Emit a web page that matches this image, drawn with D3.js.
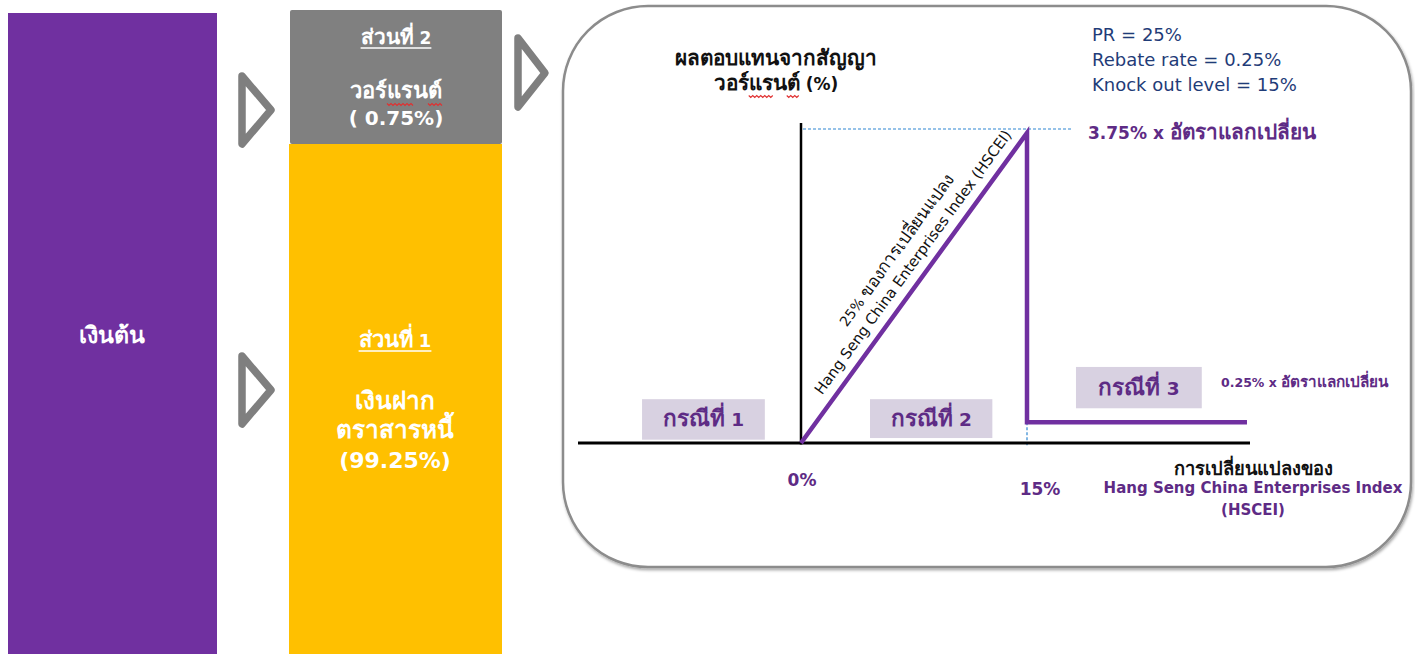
<!DOCTYPE html>
<html><head><meta charset="utf-8">
<script src="https://cdn.jsdelivr.net/npm/d3@7/dist/d3.min.js"></script>
<style>
html,body{margin:0;padding:0;background:#fff;}
svg{display:block;}
text{font-family:Tahoma,"DejaVu Sans","Noto Sans",sans-serif;}
</style></head>
<body>
<svg id="c" width="1415" height="654"></svg>
<script>
// ---- data ----
const payoffX = [0, 15, 15, 29.6];          // % change of HSCEI
const payoffY = [0, 3.75, 0.25, 0.25];      // warrant return (%)
const xTicks = ["0%", "15%"];
const xTickValues = [0, 15];
const caseLabels = ["กรณีที่ 1", "กรณีที่ 2", "กรณีที่ 3"];
const paramLines = ["PR = 25%", "Rebate rate = 0.25%", "Knock out level = 15%"];
const titleLines = ["ผลตอบแทนจากสัญญา", "วอร์แรนต์ (%)"];
const xLabelLines = ["การเปลี่ยนแปลงของ", "Hang Seng China Enterprises Index", "(HSCEI)"];
const diagLines = ["25% ของการเปลี่ยนแปลง", "Hang Seng China Enterprises Index (HSCEI)"];
const capLabel = "3.75% x อัตราแลกเปลี่ยน";
const rebateLabel = "0.25% x อัตราแลกเปลี่ยน";
const principalLabel = "เงินต้น";
const part2Lines = ["ส่วนที่ 2", "วอร์แรนต์", "( 0.75%)"];
const part1Lines = ["ส่วนที่ 1", "เงินฝาก", "ตราสารหนี้", "(99.25%)"];

const svg = d3.select("#c");
const PURPLE = "#7030A0", DARKP = "#5E2B85", GRAY = "#7F7F7F";
const THAI = 1.22;

// text helper: Thai runs get a larger size to match the reference's Thai face
function addText(parent, str, o) {
  const t = parent.append("text").attr("x", o.x).attr("y", o.y)
    .attr("text-anchor", o.anchor || "start").attr("fill", o.fill || "#000")
    .attr("font-weight", o.bold ? "bold" : "normal");
  const runs = str.match(/[\u0E00-\u0E7F]+|[^\u0E00-\u0E7F]+/g);
  runs.forEach(r => {
    const th = /[\u0E00-\u0E7F]/.test(r);
    t.append("tspan").attr("font-size", o.size * (th ? THAI : 1)).text(r);
  });
  if (o.underline) {
    const bb = t.node().getBBox();
    parent.append("line").attr("x1", bb.x).attr("x2", bb.x + bb.width)
      .attr("y1", o.y + 4).attr("y2", o.y + 4).attr("stroke", o.fill || "#000").attr("stroke-width", 1.6);
  }
  return t;
}
// red spell-check squiggle under a char range
function squiggle(t, i0, i1, dy) {
  const node = t.node();
  try {
    const a = node.getExtentOfChar(i0), b = node.getExtentOfChar(i1);
    const x0 = Math.min(a.x, b.x), x1 = Math.max(a.x + a.width, b.x + b.width), yy = +t.attr("y") + dy;
    const p = [];
    for (let xx = x0, k = 0; xx <= x1 + 0.1; xx += 2, k++) p.push([xx, yy + (k % 2 ? 1.5 : -0.5)]);
    svg.append("path").attr("d", d3.line()(p)).attr("fill", "none").attr("stroke", "#E03030").attr("stroke-width", 1.1);
  } catch (e) {}
}

// ---- left blocks ----
svg.append("rect").attr("x", 8).attr("y", 13).attr("width", 209).attr("height", 660).attr("fill", PURPLE);
svg.append("rect").attr("x", 290).attr("y", 10).attr("width", 212).attr("height", 134).attr("fill", "#808080").attr("rx", 2);
svg.append("rect").attr("x", 289).attr("y", 144).attr("width", 213).attr("height", 530).attr("fill", "#FFC000");

addText(svg, principalLabel, {x: 112, y: 343, anchor: "middle", fill: "#fff", bold: true, size: 19});

const p2 = [];
part2Lines.forEach((s, i) => {
  p2.push(addText(svg, s, {x: 396, y: [44, 98, 125][i], anchor: "middle", fill: "#fff", bold: true,
    size: [17, 18, 20][i], underline: i === 0}));
});
part1Lines.forEach((s, i) => {
  addText(svg, s, {x: 395, y: [347, 409, 438, 468][i], anchor: "middle", fill: "#fff", bold: true,
    size: [18, 20, 20, 22][i], underline: i === 0});
});

// arrows (open triangles)
const arrowPts = [
  [[242, 76], [271, 110], [242, 144]],
  [[242, 356], [271, 390], [242, 424]],
  [[518, 38], [545, 73], [518, 107]]
];
arrowPts.forEach(p => {
  svg.append("path").attr("d", d3.line()(p) + "Z").attr("fill", "none")
    .attr("stroke", GRAY).attr("stroke-width", 7.5).attr("stroke-linejoin", "round");
});

// ---- panel ----
const defs = svg.append("defs");
const f = defs.append("filter").attr("id", "sh").attr("x", "-5%").attr("y", "-5%").attr("width", "110%").attr("height", "110%");
f.append("feDropShadow").attr("dx", 1).attr("dy", 2).attr("stdDeviation", 1.5).attr("flood-color", "#000").attr("flood-opacity", 0.35);
svg.append("rect").attr("x", 563).attr("y", 6).attr("width", 848).attr("height", 561)
  .attr("rx", 85).attr("ry", 85).attr("fill", "#fff").attr("stroke", "#8c8c8c").attr("stroke-width", 2.5)
  .attr("filter", "url(#sh)");

// ---- scales ----
const x = d3.scaleLinear().domain([0, 15]).range([801, 1027]);
const y = d3.scaleLinear().domain([0, 3.75]).range([443, 133]);
const xMin = x.invert(578), xMax = x.invert(1250);

// case boxes
const caseBoxes = [
  {x0: -10.55, x1: -2.4, y0: 0.04, y1: 0.53},
  {x0: 4.58, x1: 12.7, y0: 0.06, y1: 0.53},
  {x0: 18.25, x1: 26.6, y0: 0.42, y1: 0.92}
];
caseBoxes.forEach((b, i) => {
  svg.append("rect").attr("x", x(b.x0)).attr("y", y(b.y1)).attr("width", x(b.x1) - x(b.x0))
    .attr("height", y(b.y0) - y(b.y1)).attr("fill", "#D8D1E1");
  addText(svg, caseLabels[i], {x: (x(b.x0) + x(b.x1)) / 2, y: (y(b.y0) + y(b.y1)) / 2 + 7,
    anchor: "middle", fill: DARKP, bold: true, size: 18.5});
});

// dashed guides
svg.append("line").attr("x1", x(0) + 2).attr("x2", 1072).attr("y1", y(3.75) - 4).attr("y2", y(3.75) - 4)
  .attr("stroke", "#2E86D1").attr("stroke-width", 1.2).attr("stroke-dasharray", "3,2");
svg.append("line").attr("x1", x(15)).attr("x2", x(15)).attr("y1", y(0.25)).attr("y2", y(0) + 4)
  .attr("stroke", "#2E86D1").attr("stroke-width", 1.2).attr("stroke-dasharray", "3,2");

// axes
svg.append("line").attr("x1", x(0)).attr("x2", x(0)).attr("y1", 123).attr("y2", y(0) + 1.5)
  .attr("stroke", "#000").attr("stroke-width", 2.5);
svg.append("line").attr("x1", x(xMin)).attr("x2", x(xMax)).attr("y1", y(0)).attr("y2", y(0))
  .attr("stroke", "#000").attr("stroke-width", 3);

// payoff line
const pts = payoffX.map((v, i) => [x(v), y(payoffY[i])]);
svg.append("path").attr("d", d3.line()(pts)).attr("fill", "none").attr("stroke", PURPLE)
  .attr("stroke-width", 4.5).attr("stroke-linejoin", "miter");

// tick labels
xTickValues.forEach((d, i) => {
  addText(svg, xTicks[i], {x: x(d) + (i === 1 ? 13 : 1), y: i === 1 ? 495 : 486, anchor: "middle",
    fill: DARKP, bold: true, size: 17});
});

// diagonal text
const ang = Math.atan2(y(3.75) - y(0), x(15) - x(0)) * 180 / Math.PI;
const frac = 0.553;
const ax = x(15 * frac), ay = y(3.75 * frac);
const dg = svg.append("g").attr("transform", `translate(${ax},${ay}) rotate(${ang})`);
addText(dg, diagLines[0], {x: 0, y: -31, anchor: "middle", fill: "#111", size: 14});
addText(dg, diagLines[1], {x: 0, y: -11, anchor: "middle", fill: "#111", size: 14.8});

// labels
addText(svg, capLabel, {x: 1088, y: 139, fill: DARKP, bold: true, size: 17});
addText(svg, rebateLabel, {x: 1221, y: 387, fill: DARKP, bold: true, size: 12.5});

paramLines.forEach((t, i) => {
  addText(svg, t, {x: 1092, y: 41 + i * 25, fill: "#1F3C78", size: 18});
});
const tl = [];
titleLines.forEach((t, i) => {
  tl.push(addText(svg, t, {x: 776, y: 65 + i * 25, anchor: "middle", fill: "#111", bold: true, size: 17}));
});
xLabelLines.forEach((t, i) => {
  addText(svg, t, {x: 1253, y: [475, 493, 515][i], anchor: "middle",
    fill: i === 0 ? "#111" : DARKP, bold: true, size: 15});
});

// squiggles under "วอร์แรนต์"
squiggle(tl[1], 4, 5, 6);
squiggle(tl[1], 7, 8, 6);
squiggle(p2[1], 4, 5, 6);
squiggle(p2[1], 7, 8, 6);
</script>
</body></html>
